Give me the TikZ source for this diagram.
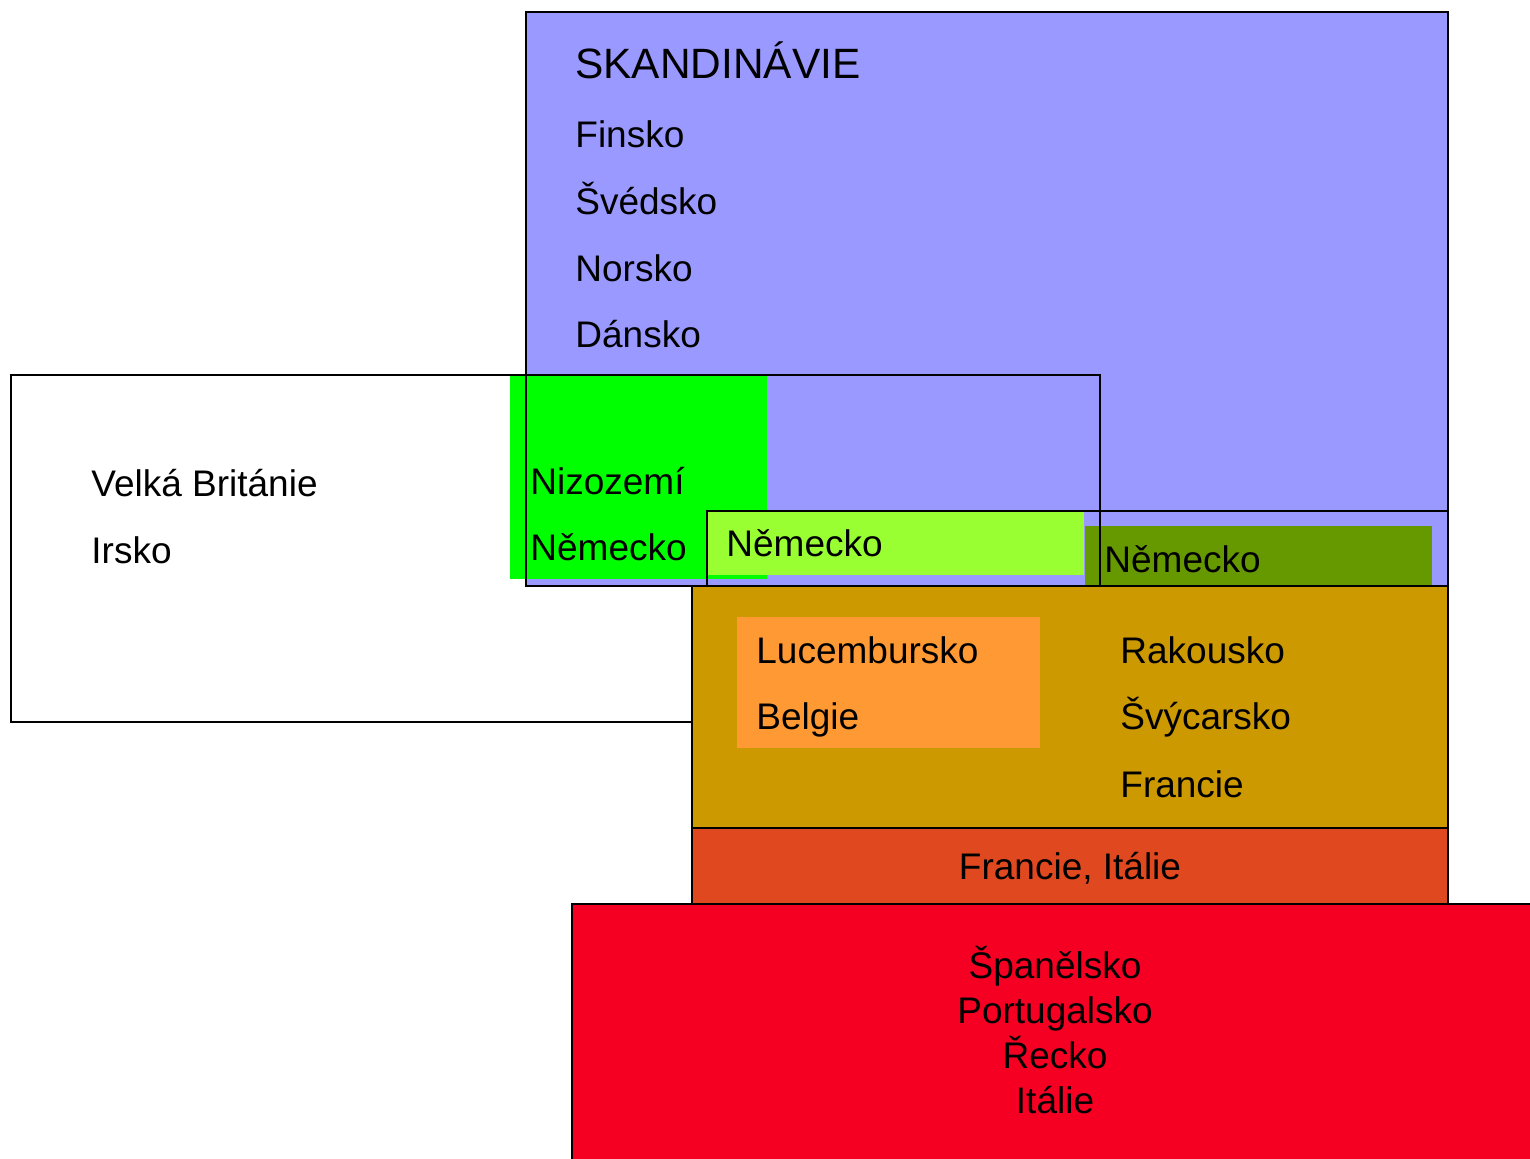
\documentclass[tikz,border=0pt]{standalone}
\usepackage{fontspec}
\setmainfont{Liberation Sans}
\definecolor{cblue}{HTML}{9999FF}
\definecolor{cgreen}{HTML}{00FF00}
\definecolor{clime}{HTML}{99FF33}
\definecolor{colive}{HTML}{669900}
\definecolor{cgold}{HTML}{CC9900}
\definecolor{corange}{HTML}{FF9933}
\definecolor{credor}{HTML}{E0481F}
\definecolor{cred}{HTML}{F50022}
\tikzset{
  outl/.style={draw=black, line width=1pt},
  lbl/.style={anchor=base west, inner sep=0pt, font=\fontsize{18.5pt}{20pt}\selectfont},
  clbl/.style={anchor=base, inner sep=0pt, font=\fontsize{18.5pt}{20pt}\selectfont},
  ttl/.style={anchor=base west, inner sep=0pt, font=\fontsize{21.2pt}{24pt}\selectfont}
}
\begin{document}
\begin{tikzpicture}[x=0.5pt,y=-0.5pt]
\useasboundingbox (0,0) rectangle (1530,1158);
\clip (0,0) rectangle (1530,1158);
\fill[white] (0,0) rectangle (1530,1158);
% fills
\fill[cblue] (526,12) rectangle (1448,586);
\fill[cgreen] (510,375) rectangle (767,579);
\fill[clime] (707,511) rectangle (1084,575);
\fill[colive] (1085,526) rectangle (1432,586);
% outlines
\draw[outl] (526,12) rectangle (1448,586);
\draw[outl] (11,375) rectangle (1100,722);
\draw[outl] (707,511) rectangle (1448,586);
% lower boxes
\draw[outl, fill=cgold] (692,586) rectangle (1448,828);
\fill[corange] (737,617) rectangle (1040,748);
\draw[outl, fill=credor] (692,828) rectangle (1448,904);
\draw[outl, fill=cred] (572,904) rectangle (1560,1190);
% texts
\node[ttl] (skand) at (575,78) {SKANDINÁVIE};
\node[lbl] (fin) at (575,147) {Finsko};
\node[lbl] (sve) at (575,214) {Švédsko};
\node[lbl] (nor) at (575,281) {Norsko};
\node[lbl] (dan) at (575,347) {Dánsko};
\node[lbl] (vb) at (91,496) {Velká Británie};
\node[lbl] (irs) at (91,563) {Irsko};
\node[lbl] (niz) at (530,494) {Nizozemí};
\node[lbl] (nem1) at (530,560) {Německo};
\node[lbl] (nem2) at (726,556) {Německo};
\node[lbl] (nem3) at (1104,572) {Německo};
\node[lbl] (luc) at (756,663) {Lucembursko};
\node[lbl] (bel) at (756,729) {Belgie};
\node[lbl] (rak) at (1120,663) {Rakousko};
\node[lbl] (svy) at (1120,729) {Švýcarsko};
\node[lbl] (fra) at (1120,797) {Francie};
\node[clbl] (frit) at (1070,879) {Francie, Itálie};
\node[clbl] (spa) at (1055,978) {Španělsko};
\node[clbl] (por) at (1055,1023) {Portugalsko};
\node[clbl] (rec) at (1055,1068) {Řecko};
\node[clbl] (ita) at (1055,1113) {Itálie};
\end{tikzpicture}
\end{document}
